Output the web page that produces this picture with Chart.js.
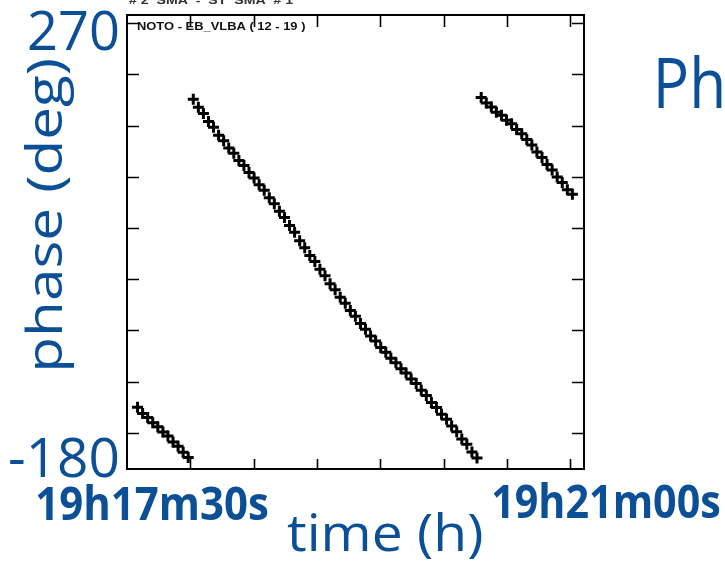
<!DOCTYPE html>
<html>
<head>
<meta charset="utf-8">
<script src="https://cdn.jsdelivr.net/npm/chart.js@4.4.1/dist/chart.umd.min.js"></script>
<style>
  html, body { margin: 0; padding: 0; background: #ffffff; }
  #wrap { width: 725px; height: 564px; }
</style>
</head>
<body>
<div id="wrap"><canvas id="c" width="725" height="564"></canvas></div>
<script>
// ---- data (time in seconds after 19h17m30s, phase in degrees) ----
const earlyTime  = [5.0, 7.4, 9.8, 12.2, 14.6, 17.0, 19.4, 21.8, 24.2, 26.6, 29.0];
const earlyPhase = [-125.1, -131.2, -135.2, -140.3, -144.1, -149.3, -153.2, -159.1, -163.1, -169.0, -174.2];

const mainTime = [31.4, 33.8, 36.2, 38.6, 41.0, 43.4, 45.8, 48.2, 50.6, 53.0,
                  55.4, 57.8, 60.2, 62.6, 65.0, 67.4, 69.8, 72.2, 74.6, 77.0,
                  79.4, 81.8, 84.2, 86.6, 89.0, 91.4, 93.8, 96.2, 98.6, 101.0,
                  103.4, 105.8, 108.2, 110.6, 113.0, 115.4, 117.8, 120.2, 122.6, 125.0,
                  127.4, 129.8, 132.2, 134.6, 137.0, 139.4, 141.8, 144.2, 146.6, 149.0,
                  151.4, 153.8, 156.2, 158.6, 161.0, 163.4, 165.8];
const mainPhase = [175.6, 167.9, 161.8, 154.1, 148.3, 140.6, 135.2, 128.1, 122.9, 116.0,
                   111.0, 104.1, 98.9, 92.1, 86.8, 79.5, 73.7, 66.3, 60.2, 52.3,
                   45.9, 37.6, 30.7, 23.1, 17.2, 9.6, 3.4, -4.4, -10.3, -17.6,
                   -23.4, -30.7, -36.2, -43.3, -48.8, -55.4, -60.3, -66.8, -71.4, -77.3,
                   -81.6, -87.4, -91.7, -97.5, -101.8, -108.4, -113.6, -120.4, -125.4, -131.9,
                   -136.8, -143.5, -148.9, -156.0, -161.3, -168.8, -174.6];

const lateTime  = [167.8, 170.2, 172.6, 175.0, 177.4, 179.8, 182.2, 184.6, 187.0, 189.4,
                   191.8, 194.2, 196.6, 199.0, 201.4, 203.8, 206.2, 208.6, 211.0];
const latePhase = [177.4, 172.0, 168.1, 163.1, 160.0, 155.2, 151.8, 146.1, 142.0, 136.3,
                   131.0, 124.1, 118.9, 112.0, 106.7, 99.7, 94.3, 87.4, 83.0];

const xTickValues = [30, 60, 90, 120, 150, 180, 210];
const yTickValues = [-150, -100, -50, 0, 50, 100, 150, 200, 250];

const panelTitle = "NOTO - EB_VLBA ( 12 - 19 )";
const topCutText = "# 2  SMA  -  ST  SMA  # 1";
const yTopLabel = "270";
const yBottomLabel = "-180";
const yAxisTitle = "phase (deg)";
const xStartLabel = "19h17m30s";
const xEndLabel = "19h21m00s";
const xAxisTitle = "time (h)";
const sideTitle = "Ph";

// ---- helpers ----
const toPoints = (t, p) => t.map((v, i) => ({ x: v, y: p[i] }));
const BLUE = '#0b4f97';

function fitText(ctx, text, font, left, right, baseline, color) {
  ctx.save();
  ctx.font = font;
  const m = ctx.measureText(text);
  const w = m.actualBoundingBoxRight + m.actualBoundingBoxLeft;
  const sx = (right - left) / w;
  ctx.translate(left, baseline);
  ctx.scale(sx, 1);
  ctx.fillStyle = color;
  ctx.textAlign = 'left';
  ctx.textBaseline = 'alphabetic';
  ctx.fillText(text, m.actualBoundingBoxLeft, 0);
  ctx.restore();
}

const framePlugin = {
  id: 'frameTicks',
  afterDatasetsDraw(chart) {
    const ctx = chart.ctx;
    const a = chart.chartArea;
    const xs = chart.scales.x, ys = chart.scales.y;
    ctx.save();
    ctx.strokeStyle = '#000';
    ctx.lineWidth = 2;
    ctx.strokeRect(a.left, a.top, a.right - a.left, a.bottom - a.top);
    ctx.lineWidth = 1.6;
    ctx.beginPath();
    xs.ticks.forEach(t => {
      const px = Math.round(xs.getPixelForValue(t.value)) + 0.5;
      ctx.moveTo(px, a.bottom); ctx.lineTo(px, a.bottom - 10);
      ctx.moveTo(px, a.top); ctx.lineTo(px, a.top + 12);
    });
    ys.ticks.forEach(t => {
      const py = Math.round(ys.getPixelForValue(t.value)) + 0.5;
      ctx.moveTo(a.left, py); ctx.lineTo(a.left + 12, py);
      ctx.moveTo(a.right, py); ctx.lineTo(a.right - 12, py);
    });
    ctx.stroke();
    ctx.restore();
  },
  afterDraw(chart) {
    const ctx = chart.ctx;
    // small panel texts
    fitText(ctx, panelTitle, 'bold 10px "Liberation Sans"', 137, 305, 30, '#111');
    fitText(ctx, topCutText, 'bold 11px "Liberation Sans"', 129, 293, 4, '#333');
    // big blue annotations
    fitText(ctx, yTopLabel, '54px "Open Sans"', 29, 118, 50, BLUE);
    fitText(ctx, yBottomLabel, '54px "Open Sans"', 10, 118, 477, BLUE);
    fitText(ctx, sideTitle, '70px "Open Sans"', 658, 722, 108, BLUE);
    fitText(ctx, xStartLabel, 'bold 46px "Open Sans"', 37, 268, 520, BLUE);
    fitText(ctx, xEndLabel, 'bold 46px "Open Sans"', 493, 720, 518, BLUE);
    fitText(ctx, xAxisTitle, '52px "Open Sans"', 287, 482, 551, BLUE);
    ctx.save();
    ctx.translate(62, 368);
    ctx.rotate(-Math.PI / 2);
    fitText(ctx, yAxisTitle, '50px "Open Sans"', 0, 308, 0, BLUE);
    ctx.restore();
  }
};

const crossStyle = {
  showLine: false,
  pointStyle: 'cross',
  pointRadius: 5.5,
  pointHoverRadius: 5.5,
  pointBorderWidth: 3,
  borderColor: '#000',
  backgroundColor: '#000'
};

new Chart(document.getElementById('c'), {
  type: 'scatter',
  data: {
    datasets: [
      Object.assign({ label: 'early', data: toPoints(earlyTime, earlyPhase) }, crossStyle),
      Object.assign({ label: 'main', data: toPoints(mainTime, mainPhase) }, crossStyle),
      Object.assign({ label: 'late', data: toPoints(lateTime, latePhase) }, crossStyle)
    ]
  },
  options: {
    responsive: false,
    animation: false,
    devicePixelRatio: 1,
    layout: { padding: { left: 127, right: 141, top: 15, bottom: 95 } },
    plugins: { legend: { display: false }, tooltip: { enabled: false } },
    scales: {
      x: {
        type: 'linear', min: 0, max: 216.5, display: false,
        afterBuildTicks: s => { s.ticks = xTickValues.map(v => ({ value: v })); }
      },
      y: {
        type: 'linear', min: -185.4, max: 258, display: false,
        afterBuildTicks: s => { s.ticks = yTickValues.map(v => ({ value: v })); }
      }
    }
  },
  plugins: [framePlugin]
});
</script>
</body>
</html>
